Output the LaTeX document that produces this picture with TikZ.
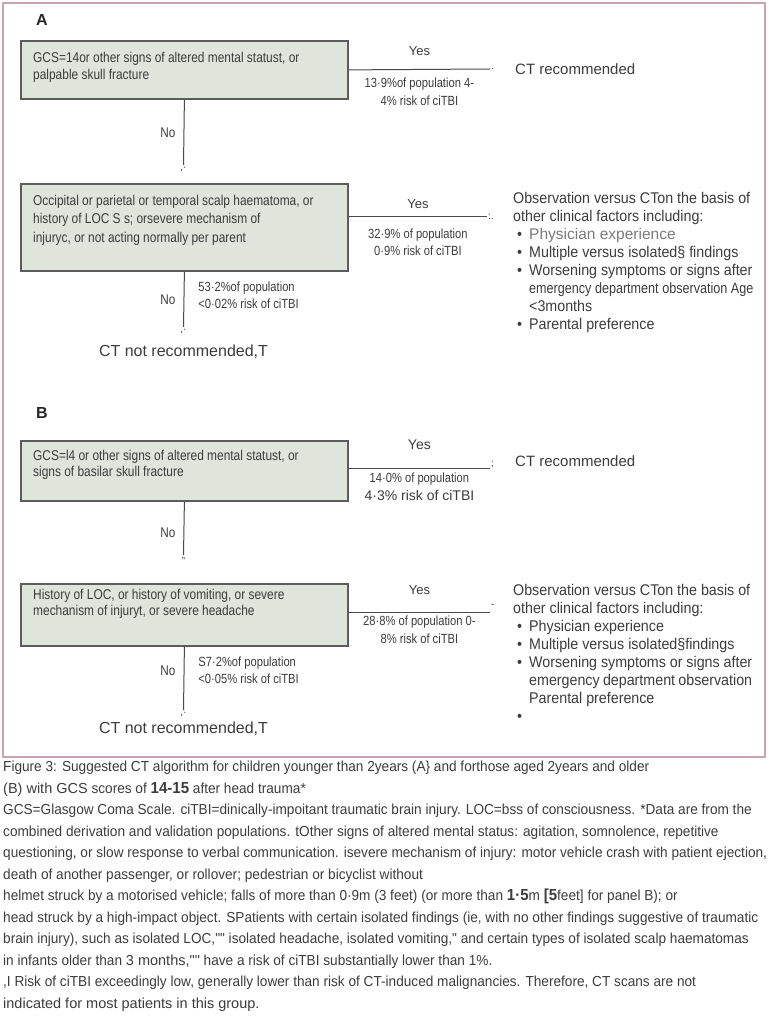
\documentclass[tikz,border=0pt]{standalone}
\usepackage{fontspec}
\setmainfont{Liberation Sans}
\newfontfamily\narrowfont[FakeStretch=0.84]{Liberation Sans}
\newfontfamily\listfont[FakeStretch=0.92]{Liberation Sans}
\newfontfamily\capfont[FakeStretch=0.94]{Liberation Sans}
\usetikzlibrary{positioning}

\definecolor{framepink}{HTML}{C9A3B1}
\definecolor{boxfill}{HTML}{DFE5DA}
\definecolor{boxedge}{HTML}{5C5C5C}
\definecolor{inkgray}{HTML}{3C3C3C}
\definecolor{lightink}{HTML}{7A7A7A}
\definecolor{flowgray}{HTML}{4A4A4A}

\tikzset{
  qbox/.style={draw=boxedge, line width=1.8pt, fill=boxfill, anchor=north west, minimum width=327pt, inner sep=0pt},
  qtext/.style={anchor=north west, inner sep=0pt, align=left, text=inkgray, font=\narrowfont\fontsize{14.2}{17}\selectfont},
  flow/.style={draw=flowgray, line width=1pt},
  yeslabel/.style={text=inkgray, inner sep=0pt, font=\fontsize{13}{15}\selectfont},
  stat/.style={text=inkgray, align=center, inner sep=0pt, font=\narrowfont\fontsize{13.3}{17.5}\selectfont},
  nolabel/.style={text=inkgray, inner sep=0pt, font=\narrowfont\fontsize{14}{16}\selectfont},
  tipmark/.style={text=inkgray, inner sep=0pt, font=\fontsize{10}{10}\selectfont},
  outcome/.style={text=inkgray, inner sep=0pt, font=\fontsize{15}{17}\selectfont},
  options/.style={anchor=north west, inner sep=0pt, align=left, text=inkgray, font=\listfont\fontsize{15.5}{18}\selectfont},
  panel/.style={anchor=west, inner sep=0pt, text=black!85, font=\bfseries\fontsize{16}{18}\selectfont},
  legend/.style={anchor=north west, inner sep=0pt, align=left, text=inkgray, font=\capfont\fontsize{14.5}{21.5}\selectfont}
}
\newcommand{\optitem}[1]{\hspace*{4pt}\makebox[12pt][l]{\textbullet}#1}
\newcommand{\optcont}[1]{\hspace*{16pt}#1}
\newcommand{\plainpart}[1]{{\fontspec{Liberation Sans}#1}}

\begin{document}
\begin{tikzpicture}[x=1pt, y=-1pt]
\useasboundingbox (0,0) rectangle (768,1024);
\draw[framepink, line width=1.2pt] (3,3) rectangle (765,757);

% ---------------- Panel A ----------------
\node[panel] (pa) at (36,20) {A};
\node[qbox, minimum height=58pt] (a1) at (20,40) {};
\node[qtext] (a1t) at (33,52) {GCS=14or other signs of altered mental statust, or\\palpable skull fracture};
\coordinate (a1y) at (490,69);
\draw[flow] (a1.east) -- (a1y)
  node[yeslabel, midway, above=13pt] {Yes}
  node[stat, midway, below=8pt] {13·9\%of population 4-\\4\% risk of ciTBI};
\node[tipmark, right=1pt of a1y] {.};
\node[outcome, anchor=west, right=25pt of a1y] (a1r) {CT recommended};

\coordinate (a1n) at (183.5,165);
\draw[flow] (a1.south) -- (a1n) node[nolabel, midway, left=8pt] {No};
\node[tipmark, below=2pt of a1n] {,·};

\node[qbox, minimum height=87pt] (a2) at (20,183) {};
\node[qtext, font=\narrowfont\fontsize{14.2}{18.5}\selectfont] (a2t) at (33,195) {Occipital or parietal or temporal scalp haematoma, or\\history of LOC S s; orsevere mechanism of\\injuryc, or not acting normally per parent};
\coordinate (a2y) at (487,217);
\draw[flow] (a2.east |- a2y) -- (a2y)
  node[yeslabel, midway, above=8pt] {Yes}
  node[stat, midway, below=11pt] {32·9\% of population\\0·9\% risk of ciTBI};
\node[tipmark, right=1pt of a2y] {:.};
\node[options] (a2o) at (513,192) {Observation versus CTon the basis of\\other clinical factors including:\\
  \optitem{\plainpart{\color{lightink}\fontsize{15.5}{18}\selectfont Physician experience}}\\
  \optitem{Multiple versus isolated§ findings}\\
  \optitem{Worsening symptoms or signs after}\\
  \optcont{{\narrowfont\fontsize{15}{18}\selectfont emergency department observation Age}}\\
  \optcont{<3months}\\
  \optitem{Parental preference}};

\coordinate (a2n) at (183.5,327);
\draw[flow] (a2.south) -- (a2n)
  node[nolabel, midway, left=8pt] {No}
  node[stat, align=left, midway, right=14pt, yshift=4pt] {53·2\%of population\\<0·02\% risk of ciTBI};
\node[tipmark, below=2pt of a2n] {,·};
\node[outcome, font=\fontsize{16}{18}\selectfont, below=18pt of a2n] (a2no) {CT not recommended,T};

% ---------------- Panel B ----------------
\node[panel] (pb) at (36,413) {B};
\node[qbox, minimum height=60pt] (b1) at (20,440) {};
\node[qtext, font=\narrowfont\fontsize{14.2}{16}\selectfont] (b1t) at (33,450) {GCS=l4 or other signs of altered mental statust, or\\signs of basilar skull fracture};
\coordinate (b1y) at (490,468);
\draw[flow] (b1.east |- b1y) -- (b1y)
  node[yeslabel, font=\fontsize{14}{16}\selectfont, midway, above=18pt] {Yes}
  node[stat, midway, below=4.5pt] {14·0\% of population\\\plainpart{\fontsize{14}{17}\selectfont 4·3\% risk of ciTBI}};
\node[tipmark, right=1pt of b1y, yshift=4pt] {;};
\node[outcome, anchor=west, right=25pt of b1y, yshift=7pt] (b1r) {CT recommended};

\coordinate (b1n) at (183.5,555);
\draw[flow] (b1.south) -- (b1n) node[nolabel, midway, left=8pt, yshift=-4pt] {No};
\node[tipmark, below=2pt of b1n] {"};

\node[qbox, minimum height=62pt] (b2) at (20,583) {};
\node[qtext, font=\narrowfont\fontsize{14.2}{16}\selectfont] (b2t) at (33,589) {History of LOC, or history of vomiting, or severe\\mechanism of injuryt, or severe headache};
\coordinate (b2y) at (490,612);
\draw[flow] (b2.east |- b2y) -- (b2y)
  node[yeslabel, midway, above=17pt] {Yes}
  node[stat, midway, below=3.5pt] {28·8\% of population 0-\\8\% risk of ciTBI};
\node[tipmark, right=1pt of b2y, yshift=6pt] {-};
\node[options] (b2o) at (513,584) {Observation versus CTon the basis of\\other clinical factors including:\\
  \optitem{Physician experience}\\
  \optitem{Multiple versus isolated§findings}\\
  \optitem{\makebox[223pt][s]{Worsening symptoms or signs after}}\\
  \optcont{\makebox[223pt][s]{emergency department observation}}\\
  \optcont{Parental preference}\\
  \optitem{}};

\coordinate (b2n) at (183.5,710);
\draw[flow] (b2.south) -- (b2n)
  node[nolabel, midway, left=8pt, yshift=8pt] {No}
  node[stat, align=left, midway, right=14pt, yshift=8pt] {S7·2\%of population\\<0·05\% risk of ciTBI};
\node[tipmark, below=2pt of b2n] {,·};
\node[outcome, font=\fontsize{16}{18}\selectfont, below=12pt of b2n] (b2no) {CT not recommended,T};

% ---------------- Legend ----------------
\node[legend] (cap) at (3,761) {Figure 3: Suggested CT algorithm for children younger than 2years (A\} and forthose aged 2years and older\\
\plainpart{(B) with GCS} scores of \textbf{\fontsize{16}{21.5}\selectfont 14-15} after head trauma*\\
GCS=Glasgow Coma Scale. ciTBI=dinically-impoitant traumatic brain injury. LOC=bss of consciousness. *Data are from the\\
combined derivation and validation populations. tOther signs of altered mental status: agitation, somnolence, repetitive\\
questioning, or slow response to verbal communication. isevere mechanism of injury: motor vehicle crash with patient ejection,\\
death of another passenger, or rollover; pedestrian or bicyclist without\\
helmet struck by a motorised vehicle; falls of more than 0·9m (3 feet) (or more than \textbf{\fontsize{16}{21.5}\selectfont 1·5}m \textbf{\fontsize{16}{21.5}\selectfont [5}feet] for panel B); or\\
head struck by a high-impact object. SPatients with certain isolated findings (ie, with no other findings suggestive of traumatic\\
brain injury), such as isolated LOC,"" isolated headache, isolated vomiting," and certain types of isolated scalp haematomas\\
in infants older than \plainpart{3 months,""} have a risk of ciTBI substantially lower than 1\%.\\
,I Risk of ciTBI exceedingly low, generally lower than risk of CT-induced malignancies. Therefore, CT scans are not\\
\plainpart{indicated for most patients in this group.}};
\end{tikzpicture}
\end{document}
